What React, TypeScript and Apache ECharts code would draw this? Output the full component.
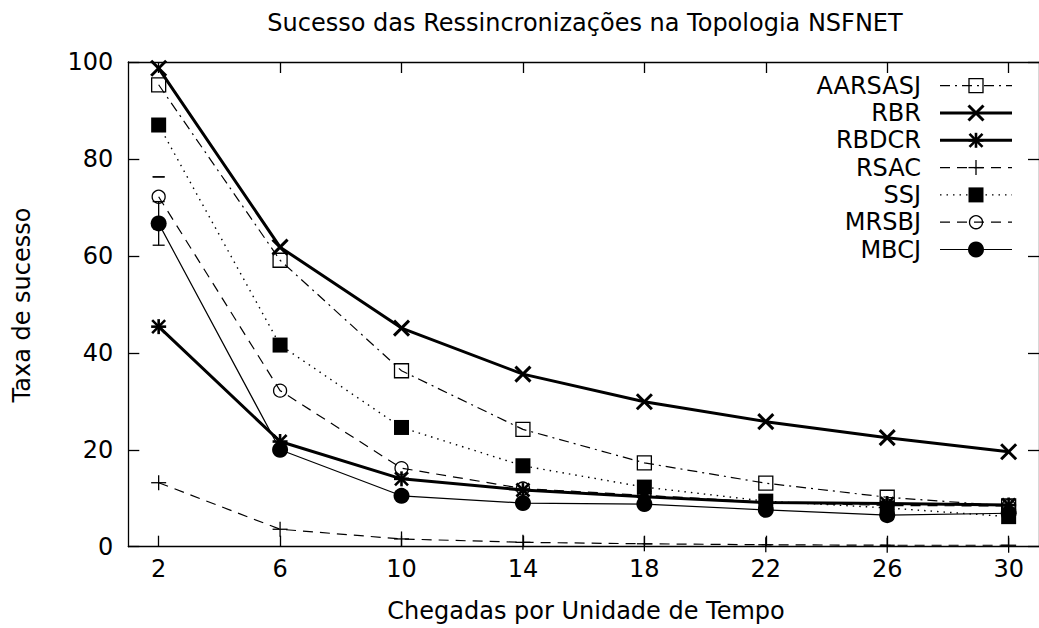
import React, { useEffect, useRef } from 'react';
import * as echarts from 'echarts';

// ---------- data ----------
const xValues = [2, 6, 10, 14, 18, 22, 26, 30];
const xTickValues = [2, 6, 10, 14, 18, 22, 26, 30];
const aarsasj = [95.3, 59.1, 36.3, 24.2, 17.3, 13.1, 10.2, 8.4];
const rbr = [98.7, 61.8, 45.1, 35.6, 29.9, 25.8, 22.5, 19.6];
const rbdcr = [45.4, 21.7, 14.0, 11.7, 10.3, 9.1, 8.9, 8.6];
const rsac = [13.2, 3.6, 1.6, 0.9, 0.6, 0.4, 0.3, 0.3];
const ssj = [87.0, 41.6, 24.6, 16.7, 12.3, 9.4, 8.0, 6.2];
const mrsbj = [72.2, 32.2, 16.2, 12.0, 10.6, 9.2, 8.5, 8.4];
const mbcj = [66.7, 20.0, 10.5, 9.0, 8.8, 7.6, 6.5, 6.9];
// error bars (x, low, high)
const errX = [2, 2];
const errLow = [62.2, 76.3];
const errHigh = [71.2, 76.3];

const titleText = 'Sucesso das Ressincronizações na Topologia NSFNET';
const xTitle = 'Chegadas por Unidade de Tempo';
const yTitle = 'Taxa de sucesso';

// ---------- styles ----------
const FONT = 'DejaVu Sans';
const K = '#000';
const seriesDefs = [
  { name: 'AARSASJ', data: aarsasj, marker: 'box', width: 1.2, dash: [10, 5, 2, 5] as any },
  { name: 'RBR', data: rbr, marker: 'x', width: 3, dash: 'solid' as any },
  { name: 'RBDCR', data: rbdcr, marker: 'star', width: 3, dash: 'solid' as any },
  { name: 'RSAC', data: rsac, marker: 'plus', width: 1.2, dash: [10, 7] as any },
  { name: 'SSJ', data: ssj, marker: 'fsquare', width: 1.4, dash: [1.5, 5] as any },
  { name: 'MRSBJ', data: mrsbj, marker: 'ocircle', width: 1.2, dash: [10, 7] as any },
  { name: 'MBCJ', data: mbcj, marker: 'fcircle', width: 1.2, dash: 'solid' as any },
];

function ln(x1: number, y1: number, x2: number, y2: number, w: number) {
  return { type: 'line', shape: { x1, y1, x2, y2 }, style: { stroke: K, lineWidth: w } };
}

function marker(type: string, cx: number, cy: number): any {
  switch (type) {
    case 'box':
      return { type: 'rect', shape: { x: cx - 7, y: cy - 7, width: 14, height: 14 }, style: { fill: 'none', stroke: K, lineWidth: 1.3 } };
    case 'x': {
      const h = 7.5;
      return { type: 'group', children: [ln(cx - h, cy - h, cx + h, cy + h, 3), ln(cx - h, cy + h, cx + h, cy - h, 3)] };
    }
    case 'star': {
      const h = 6.5;
      return {
        type: 'group',
        children: [
          ln(cx - h, cy - h, cx + h, cy + h, 2.6),
          ln(cx - h, cy + h, cx + h, cy - h, 2.6),
          ln(cx, cy - h - 1, cx, cy + h + 1, 2.6),
          ln(cx - h - 1, cy, cx + h + 1, cy, 2.6),
        ],
      };
    }
    case 'plus': {
      const h = 7.5;
      return { type: 'group', children: [ln(cx - h, cy, cx + h, cy, 1.3), ln(cx, cy - h, cx, cy + h, 1.3)] };
    }
    case 'fsquare':
      return { type: 'rect', shape: { x: cx - 7.5, y: cy - 7.5, width: 15, height: 15 }, style: { fill: K } };
    case 'ocircle':
      return { type: 'circle', shape: { cx, cy, r: 6.5 }, style: { fill: 'none', stroke: K, lineWidth: 1.3 } };
    case 'fcircle':
    default:
      return { type: 'circle', shape: { cx, cy, r: 8 }, style: { fill: K } };
  }
}

export default function App() {
  const ref = useRef<HTMLDivElement>(null);
  useEffect(() => {
    if (!ref.current) return;
    const chart = echarts.init(ref.current, null, { renderer: 'svg' });

    const lineSeries = seriesDefs.map((s) => ({
      type: 'line',
      name: s.name,
      data: xValues.map((x, i) => [x, s.data[i]]),
      symbol: 'none',
      lineStyle: { color: K, width: s.width, type: s.dash },
      z: 2,
    }));
    const markerSeries = seriesDefs.map((s) => ({
      type: 'custom',
      name: s.name + '_pts',
      data: xValues.map((x, i) => [x, s.data[i]]),
      renderItem: (params: any, api: any) => {
        const p = api.coord([api.value(0), api.value(1)]);
        return marker(s.marker, p[0], p[1]);
      },
      z: 3,
      silent: true,
    }));
    const errSeries = {
      type: 'custom',
      name: 'err',
      data: errX.map((x, i) => [x, errLow[i], errHigh[i]]),
      renderItem: (params: any, api: any) => {
        const lo = api.coord([api.value(0), api.value(1)]);
        const hi = api.coord([api.value(0), api.value(2)]);
        const w = 6;
        const children: any[] = [
          ln(lo[0] - w, lo[1], lo[0] + w, lo[1], 1.3),
          ln(hi[0] - w, hi[1], hi[0] + w, hi[1], 1.3),
        ];
        if (Math.abs(lo[1] - hi[1]) > 0.5) children.push(ln(lo[0], lo[1], hi[0], hi[1], 1.3));
        return { type: 'group', children };
      },
      z: 3,
      silent: true,
    };

    const rowY0 = 85.7;
    const rowStep = 27.3;
    const legendGraphics: any[] = [];
    seriesDefs.forEach((s, i) => {
      const y = rowY0 + i * rowStep;
      legendGraphics.push({
        type: 'text', x: 921, y,
        style: { text: s.name, fill: K, font: `24px "${FONT}"`, align: 'right', verticalAlign: 'middle' },
      });
      legendGraphics.push({
        type: 'line', shape: { x1: 940, y1: y, x2: 1012, y2: y },
        style: { stroke: K, lineWidth: s.width, lineDash: Array.isArray(s.dash) ? s.dash : null },
      });
      legendGraphics.push(marker(s.marker, 976, y));
    });

    const axisLineStyle = { color: K, width: 1.3 };
    const option: any = {
      animation: false,
      backgroundColor: '#fff',
      grid: { left: 128.3, right: -4.3, top: 62, bottom: 81.3 },
      xAxis: [
        {
          type: 'value', min: 1, max: 31, position: 'bottom',
          axisLine: { show: true, onZero: false, lineStyle: axisLineStyle },
          axisTick: { show: true, inside: true, length: 11, customValues: xTickValues, lineStyle: axisLineStyle },
          axisLabel: { show: true, customValues: xTickValues, fontSize: 24, fontFamily: FONT, color: K, margin: 10 },
          splitLine: { show: false },
        },
        {
          type: 'value', min: 1, max: 31, position: 'top',
          axisLine: { show: true, onZero: false, lineStyle: axisLineStyle },
          axisTick: { show: true, inside: true, length: 11, customValues: xTickValues, lineStyle: axisLineStyle },
          axisLabel: { show: false },
          splitLine: { show: false },
        },
      ],
      yAxis: [
        {
          type: 'value', min: 0, max: 100, interval: 20, position: 'left',
          axisLine: { show: true, onZero: false, lineStyle: axisLineStyle },
          axisTick: { show: true, inside: true, length: 11, lineStyle: axisLineStyle },
          axisLabel: { show: true, fontSize: 24, fontFamily: FONT, color: K, margin: 15 },
          splitLine: { show: false },
        },
        {
          type: 'value', min: 0, max: 100, interval: 20, position: 'right',
          axisLine: { show: true, onZero: false, lineStyle: axisLineStyle },
          axisTick: { show: true, inside: true, length: 11, lineStyle: axisLineStyle },
          axisLabel: { show: false },
          splitLine: { show: false },
        },
      ],
      graphic: [
        {
          type: 'text', x: 585, y: 23,
          style: { text: titleText, fill: K, font: `24px "${FONT}"`, align: 'center', verticalAlign: 'middle' },
        },
        {
          type: 'text', x: 586, y: 611,
          style: { text: xTitle, fill: K, font: `24px "${FONT}"`, align: 'center', verticalAlign: 'middle' },
        },
        {
          type: 'text', x: 22, y: 305, rotation: Math.PI / 2,
          style: { text: yTitle, fill: K, font: `24px "${FONT}"`, align: 'center', verticalAlign: 'middle' },
        },
        ...legendGraphics,
      ],
      series: [...lineSeries, ...markerSeries, errSeries],
    };
    chart.setOption(option);
    return () => chart.dispose();
  }, []);
  return <div ref={ref} style={{ position: 'absolute', left: 0, top: 0, width: 1039, height: 628 }} />;
}
